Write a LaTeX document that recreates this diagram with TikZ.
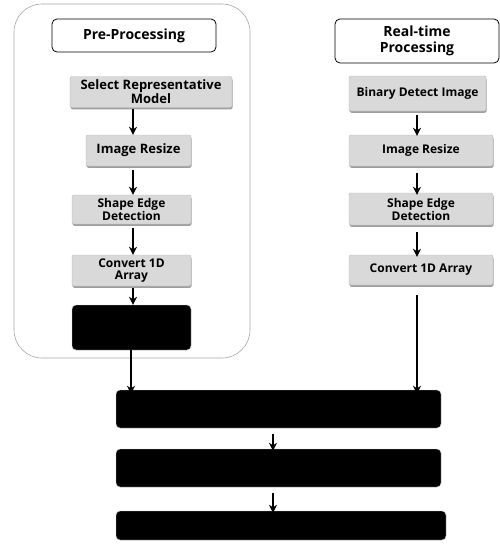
\documentclass[tikz,border=0pt]{standalone}
\usepackage{fontspec}
\setmainfont{Open Sans}
\usetikzlibrary{arrows.meta,shadows}
\begin{document}
\begin{tikzpicture}[x=1pt,y=-1pt,
  header/.style={draw=black,line width=0.8pt,rounded corners=5pt,fill=white,align=center,font=\fontsize{14}{15.5}\selectfont\bfseries,inner sep=1pt},
  graybox/.style={draw=gray!55,line width=0.4pt,fill=gray!30,rounded corners=2pt,align=center,font=\fontsize{12}{11.5}\selectfont\bfseries,inner sep=0pt,
     drop shadow={shadow xshift=0.6pt,shadow yshift=-1.8pt,fill=gray!75,opacity=1}},
  blackbox/.style={draw=gray!40,line width=0.4pt,fill=black,rounded corners=4pt,inner sep=0pt},
  arr/.style={-{Stealth[length=8pt,width=8pt]},line width=2pt,black}]
\useasboundingbox (0,0) rectangle (500,549);
% outer group
\draw[gray!70,line width=0.6pt,rounded corners=28pt] (14,4) rectangle (250,358);
% left column
\node[header,minimum width=164pt,minimum height=33pt] (pre) at (134,35.5) {Pre-Processing};
\node[graybox,font=\fontsize{13}{12}\selectfont\bfseries,minimum width=162pt,minimum height=31pt] (sel) at (151,92) {Select Representative\\Model};
\node[graybox,font=\fontsize{13}{12}\selectfont\bfseries,minimum width=105pt,minimum height=31pt] (lres) at (138.5,150.5) {Image Resize};
\node[graybox,minimum width=119pt,minimum height=29pt] (lshp) at (131.5,209.5) {Shape Edge\\Detection};
\node[graybox,minimum width=119pt,minimum height=31pt] (lconv) at (131.5,270.5) {Convert 1D\\Array};
\node[blackbox,minimum width=119pt,minimum height=45pt] (lblk) at (131.5,327.5) {};
% right column
\node[header,minimum width=164pt,minimum height=44pt] (rt) at (417,41) {Real-time\\Processing};
\node[graybox,minimum width=137pt,minimum height=35pt] (bin) at (417.5,93.5) {Binary Detect Image};
\node[graybox,minimum width=144pt,minimum height=31pt] (rres) at (421,150.5) {Image Resize};
\node[graybox,minimum width=144pt,minimum height=32pt] (rshp) at (421,209) {Shape Edge\\Detection};
\node[graybox,minimum width=144pt,minimum height=30pt] (rconv) at (421,270) {Convert 1D Array};
% bottom
\node[blackbox,minimum width=325pt,minimum height=38pt] (b1) at (278.5,409) {};
\node[blackbox,minimum width=325pt,minimum height=38pt] (b2) at (278.5,468) {};
\node[blackbox,minimum width=330pt,minimum height=29pt] (b3) at (281,525.5) {};
% arrow axes
\coordinate (cl) at (133,0);
\coordinate (cr) at (417,0);
\coordinate (cb) at (273,0);
\coordinate (cd) at (131,0);
\draw[arr] (sel.south -| cl) ++(0,1) -- (lres.north -| cl);
\draw[arr] (lres.south -| cl) ++(0,4) -- (lshp.north -| cl);
\draw[arr] (lshp.south -| cl) ++(0,4) -- (lconv.north -| cl);
\draw[arr] (lconv.south -| cl) ++(0,2) -- (lblk.north -| cl);
\draw[arr] (bin.south -| cr) ++(0,4) -- ([yshift=-1pt]rres.north -| cr);
\draw[arr] (rres.south -| cr) ++(0,7) -- ([yshift=-2pt]rshp.north -| cr);
\draw[arr] (rshp.south -| cr) ++(0,7) -- ([yshift=-2pt]rconv.north -| cr);
\draw[arr] (rconv.south -| cr) ++(0,10) -- ([yshift=-4pt]b1.north -| cr);
\draw[arr] (lblk.south -| cd) -- ([yshift=-4pt]b1.north -| cd);
\draw[arr] (b1.south -| cb) ++(0,6) -- ([yshift=-2pt]b2.north -| cb);
\draw[arr] (b2.south -| cb) ++(0,6) -- ([yshift=-2pt]b3.north -| cb);
\end{tikzpicture}
\end{document}
